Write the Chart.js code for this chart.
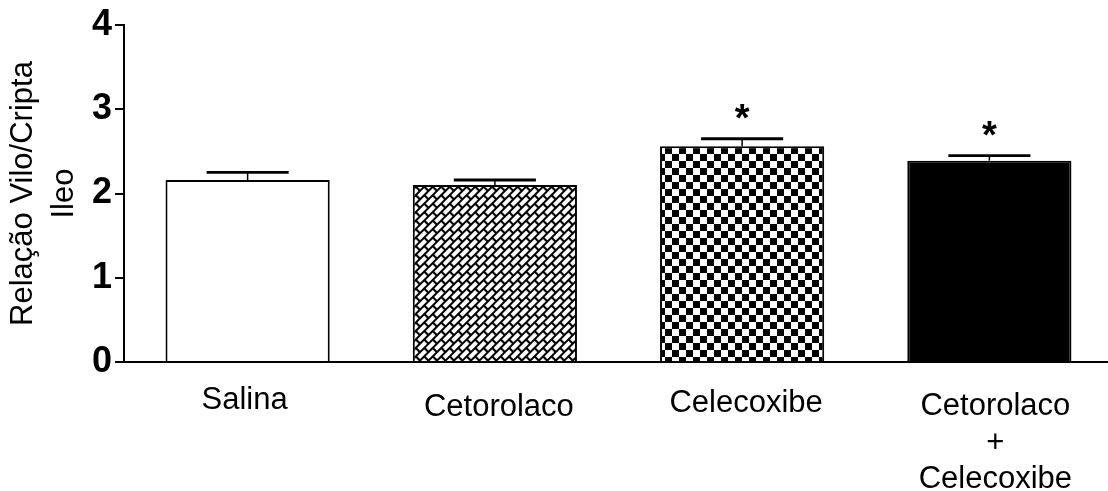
<!DOCTYPE html>
<html>
<head>
<meta charset="utf-8">
<script src="https://cdn.jsdelivr.net/npm/chart.js@4/dist/chart.umd.min.js"></script>
<style>
  html, body { margin: 0; padding: 0; background: #fff; overflow: hidden; width: 1108px; height: 491px; }
  #wrap { width: 1108px; height: 491px; overflow: hidden; }
  canvas { display: block; }
</style>
</head>
<body>
<div id="wrap"><canvas id="chart" width="1114" height="491" style="width:1114px;height:491px"></canvas></div>
<script>
// Villus/crypt ratio in the ileum, mean ± SEM per treatment group
const categories = [['Salina'], ['Cetorolaco'], ['Celecoxibe'], ['Cetorolaco', '+', 'Celecoxibe']];
const means = [2.16, 2.10, 2.56, 2.39];
const sem = [0.09, 0.06, 0.09, 0.06];
const marks = ['', '', '*', '*'];
const yTicks = [0, 1, 2, 3, 4];

const FONT = '"Liberation Sans", Arial, sans-serif';

// Vertical drop of each group label below the axis line, and a small horizontal nudge
const labelDrop = [47, 54, 50, 53];
const labelNudge = [-3, 4, 4, 6];
const labelLineHeight = 36.5;

// Fill patterns for the bars
function brickPattern() {
  const c = document.createElement('canvas');
  c.width = 12; c.height = 12;
  const g = c.getContext('2d');
  g.fillStyle = '#fff';
  g.fillRect(0, 0, 12, 12);
  g.strokeStyle = '#000';
  g.lineWidth = 2.2;
  g.beginPath();
  g.moveTo(0, 0); g.lineTo(12, 0);
  g.moveTo(0, 6); g.lineTo(12, 6);
  g.moveTo(0, 12); g.lineTo(12, 12);
  g.moveTo(0, 0); g.lineTo(0, 6);
  g.moveTo(12, 0); g.lineTo(12, 6);
  g.moveTo(6, 6); g.lineTo(6, 12);
  g.stroke();
  const p = g.createPattern(c, 'repeat');
  p.setTransform(new DOMMatrix().rotate(-45));
  return p;
}

function checkerPattern() {
  const s = 7;
  const c = document.createElement('canvas');
  c.width = 2 * s; c.height = 2 * s;
  const g = c.getContext('2d');
  g.fillStyle = '#fff';
  g.fillRect(0, 0, 2 * s, 2 * s);
  g.fillStyle = '#000';
  g.fillRect(0, 0, s, s);
  g.fillRect(s, s, s, s);
  return g.createPattern(c, 'repeat');
}

const fills = ['#ffffff', brickPattern(), checkerPattern(), '#000000'];

// Error bars, significance marks and group labels
const annotate = {
  id: 'annotate',
  afterDraw(chart) {
    const { ctx, scales: { x, y } } = chart;
    const meta = chart.getDatasetMeta(0);
    ctx.save();
    ctx.strokeStyle = '#000';
    ctx.fillStyle = '#000';
    ctx.lineCap = 'butt';
    meta.data.forEach((bar, i) => {
      const base = y.getPixelForValue(means[i]);
      const top = y.getPixelForValue(means[i] + sem[i]);
      const half = bar.width / 4;
      ctx.lineWidth = 1.5;
      ctx.beginPath();
      ctx.moveTo(bar.x, base);
      ctx.lineTo(bar.x, top);
      ctx.stroke();
      ctx.lineWidth = 2.8;
      ctx.beginPath();
      ctx.moveTo(bar.x - half, top);
      ctx.lineTo(bar.x + half, top);
      ctx.stroke();
      if (marks[i]) {
        ctx.font = 'bold 38px ' + FONT;
        ctx.textAlign = 'center';
        ctx.textBaseline = 'alphabetic';
        ctx.fillText(marks[i], bar.x, top - 8);
      }
    });
    ctx.font = '31px ' + FONT;
    ctx.textAlign = 'center';
    ctx.textBaseline = 'alphabetic';
    categories.forEach((lines, i) => {
      const cx = x.getPixelForValue(i) + labelNudge[i];
      lines.forEach((t, k) => {
        ctx.fillText(t, cx, x.top + labelDrop[i] + k * labelLineHeight);
      });
    });
    ctx.restore();
  }
};

new Chart(document.getElementById('chart'), {
  type: 'bar',
  data: {
    labels: categories,
    datasets: [{
      data: means,
      backgroundColor: fills,
      borderColor: '#000',
      borderWidth: 2,
      borderSkipped: 'start',
      categoryPercentage: 1,
      barPercentage: 0.664
    }]
  },
  options: {
    responsive: false,
    devicePixelRatio: 1,
    animation: false,
    layout: { padding: { left: 0, top: 25, right: 1, bottom: 0 } },
    plugins: { legend: { display: false }, tooltip: { enabled: false } },
    scales: {
      x: {
        type: 'category',
        offset: true,
        grid: { display: false },
        ticks: { display: false },
        border: { display: true, color: '#000', width: 2 },
        afterFit(scale) { scale.height = 129; }
      },
      y: {
        min: 0,
        max: 4,
        afterBuildTicks(axis) { axis.ticks = yTicks.map(v => ({ value: v })); },
        grid: {
          display: true,
          drawOnChartArea: false,
          drawTicks: true,
          tickLength: 9,
          color: '#000',
          lineWidth: 2
        },
        border: { display: true, color: '#000', width: 2 },
        ticks: {
          color: '#000',
          padding: 3,
          font: { family: FONT, size: 36, weight: 'bold' }
        },
        title: {
          display: true,
          text: ['Relação Vilo/Cripta', 'Ileo'],
          color: '#000',
          padding: { top: 3, bottom: 0 },
          font: { family: FONT, size: 31, lineHeight: 1.32 }
        },
        afterFit(scale) { scale.width = 124; }
      }
    }
  },
  plugins: [annotate]
});
</script>
</body>
</html>
